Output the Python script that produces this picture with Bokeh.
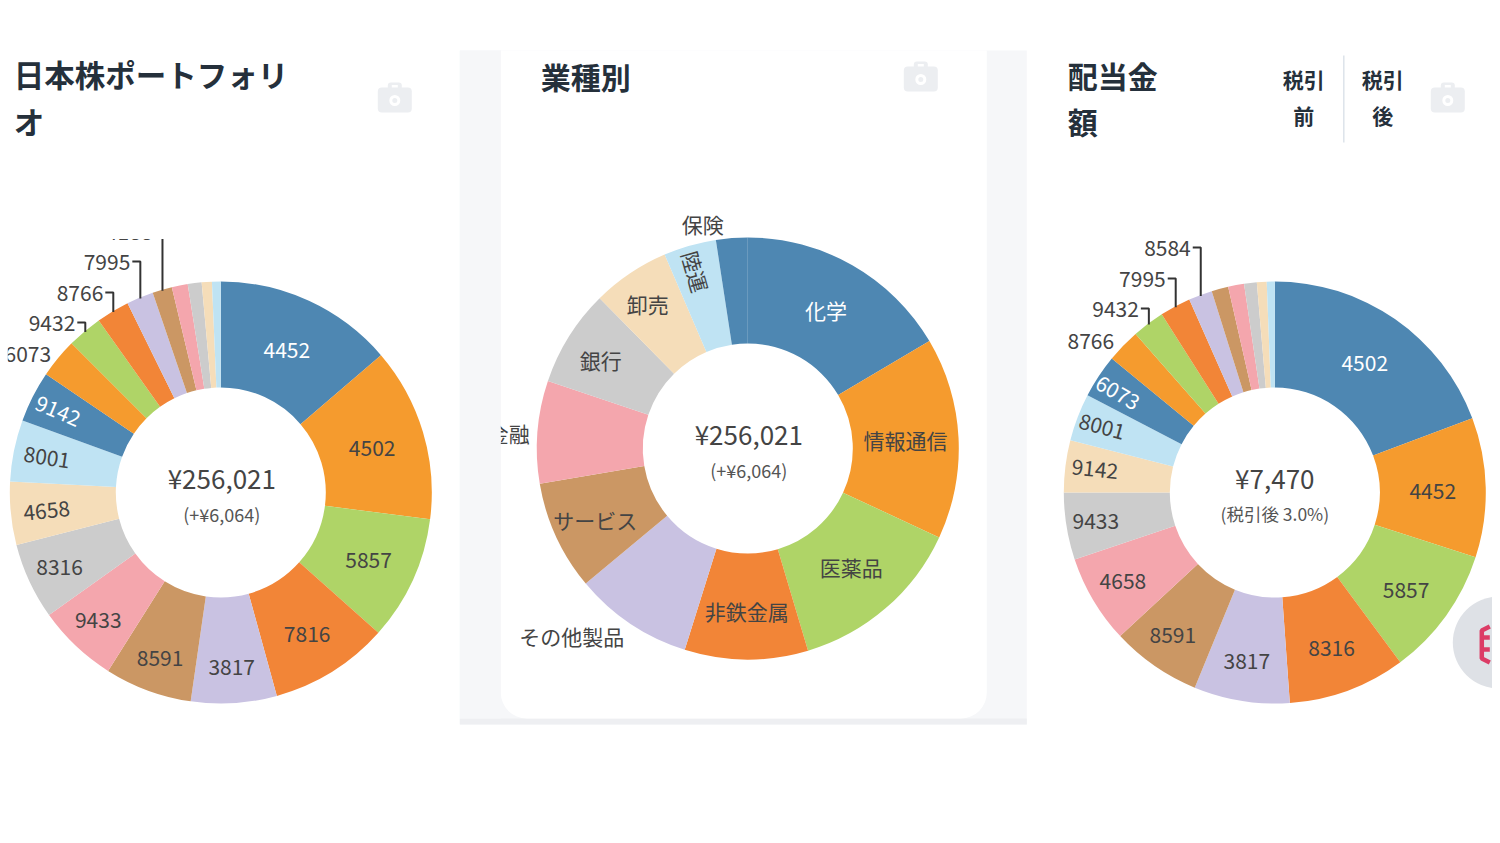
import math
from bokeh.plotting import figure
from bokeh.models import ColumnDataSource, Range1d
from bokeh.core.properties import value
from bokeh.embed import file_html
from bokeh.resources import INLINE

PALETTE = ["#4E87B2", "#F59B2E", "#AFD467", "#F28537", "#C9C2E2",
           "#CB9764", "#F4A6AD", "#CCCCCC", "#F5DDB9", "#BFE3F3"]

PORTFOLIO_CODES = ["4452", "4502", "5857", "7816", "3817", "8591", "9433", "8316", "4658", "8001",
                   "9142", "6073", "9432", "8766", "7995", "4188", "", "", "", ""]
PORTFOLIO_SHARE = [13.72, 13.31, 9.56, 9.14, 6.56, 6.69, 6.17, 5.86, 4.83, 4.72,
                   3.92, 3.03, 2.69, 2.53, 2.06, 1.50, 1.22, 1.06, 0.78, 0.67]

SECTOR_NAMES = ["化学", "情報通信", "医薬品", "非鉄金属", "その他製品", "サービス",
                "金融", "銀行", "卸売", "陸運", "保険"]
SECTOR_SHARE = [16.50, 15.42, 13.47, 9.44, 9.11, 8.39, 7.86, 7.42, 5.94, 4.03, 2.42]

DIVIDEND_CODES = ["4502", "4452", "5857", "8316", "3817", "8591", "4658", "9433", "9142", "8001",
                  "6073", "8766", "9432", "7995", "8584", "", "", "", "", ""]
DIVIDEND_SHARE = [19.28, 10.69, 9.89, 9.00, 7.33, 6.89, 6.78, 5.14, 3.97, 3.64,
                  3.33, 2.58, 2.47, 2.36, 1.81, 1.28, 1.22, 0.97, 0.75, 0.61]

FONT = "Noto Sans CJK JP"
W, H = 1492, 835
R, r = 211, 105
INK = "#444444"
SUB = "#555555"
TITLE = "#25303B"
PANEL = "#F6F7F9"


def Y(y):
    return 843 - y


p = figure(width=W, height=H, output_backend="svg", toolbar_location=None,
           x_range=Range1d(0.7, 1492.7), y_range=Range1d(8, 843), min_border=0)
p.axis.visible = False
p.grid.visible = False
p.outline_line_color = None
p.background_fill_color = "white"
p.border_fill_color = "white"


def txt(x, y, s, size, color=INK, align="center", angle=0, style="normal"):
    if style == "bold":
        y -= 3
    elif size == 21:
        y -= 1
    else:
        y -= 2
    p.text([x], [Y(y)], text=[s], text_font=value(FONT), text_font_size=f"{size}px",
           text_color=color, text_align=align, text_baseline="middle", angle=angle,
           angle_units="deg", text_font_style=style)


def mids(shares):
    tot = sum(shares)
    cum = 0
    out = []
    for v in shares:
        a0 = cum / tot * 360
        cum += v
        out.append((a0, cum / tot * 360))
    return out


def donut(cx, cy, shares):
    angs = mids(shares)
    src = ColumnDataSource(dict(
        start=[math.radians(90 - b) for _, b in angs],
        end=[math.radians(90 - a) for a, _ in angs],
        color=[PALETTE[i % 10] for i in range(len(angs))]))
    p.annular_wedge(x=cx, y=Y(cy), inner_radius=r, outer_radius=R, start_angle="start",
                    end_angle="end", fill_color="color", line_color=None, source=src)
    return angs


def inside(cx, cy, angs, labels, rotated, shift=None, size=21, outside=()):
    shift = shift or {}
    for i, s in enumerate(labels):
        if not s or s in outside:
            continue
        m = math.radians((angs[i][0] + angs[i][1]) / 2)
        x = cx + 158 * math.sin(m)
        y = cy - 158 * math.cos(m)
        dx, dy = shift.get(s, (0, 0))
        col = "white" if i % 10 == 0 else INK
        txt(x + dx, y + dy, s, size, col, angle=rotated.get(s, 0))


def leaders(cx, cy, angs, labels, spec):
    for i, s in enumerate(labels):
        if s not in spec:
            continue
        m = math.radians((angs[i][0] + angs[i][1]) / 2)
        x = cx + (R - 1) * math.sin(m)
        y = cy - (R - 1) * math.cos(m)
        ey, el = spec[s]
        p.line([x, x, x - el], [Y(y), Y(ey), Y(ey)], line_color="#333333", line_width=2)
        txt(x - el - 2, ey + 1, s, 21, INK, align="right")


def camera(x, y):
    p.quad(left=x - 7, right=x + 7, top=Y(y - 17), bottom=Y(y - 9), fill_color="#ECEEF1",
           line_color=None, border_radius=3)
    p.quad(left=x - 3, right=x + 3, top=Y(y - 14.5), bottom=Y(y - 11), fill_color="white",
           line_color=None)
    p.quad(left=x - 17, right=x + 17, top=Y(y - 12), bottom=Y(y + 13), fill_color="#ECEEF1",
           line_color=None, border_radius=4)
    p.scatter([x], [Y(y + 1)], size=8, fill_color="#ECEEF1", line_color="white", line_width=3)


# middle panel
p.quad(left=460, right=1027, top=Y(50), bottom=Y(724), fill_color=PANEL, line_color=None)
p.quad(left=460, right=1027, top=Y(718), bottom=Y(724), fill_color="#EEEFF2", line_color=None)
p.quad(left=501, right=987, top=Y(50), bottom=Y(718), fill_color="white", line_color=None,
       border_radius=(0, 0, 26, 26))

# left chart
a1 = donut(221, 492, PORTFOLIO_SHARE)
inside(221, 492, a1, PORTFOLIO_CODES,
       {"4658": 6, "8001": -9, "9142": -23},
       {"4452": (0, 2), "4502": (0, 2), "5857": (4, 3), "7816": (3, 8), "3817": (1, 18),
        "8591": (-6, 18), "9433": (-14, 14), "8316": (-18, 9), "4658": (-17, 3),
        "8001": (-19, -3), "9142": (-22, -9)},
       outside={"6073", "9432", "8766", "7995", "4188"})
txt(28, 354, "6073", 21)
leaders(221, 492, a1, PORTFOLIO_CODES,
        {"9432": (322, 8), "8766": (292, 8), "7995": (261, 8), "4188": (231, 8)})
p.quad(left=0, right=240, top=Y(150), bottom=Y(238.5), fill_color="white", line_color=None)
p.quad(left=0, right=8, top=Y(150), bottom=Y(720), fill_color="white", line_color=None)
txt(222, 479, "¥256,021", 26)
txt(222, 515, "(+¥6,064)", 18, SUB)

# middle chart
a2 = donut(748, 448, SECTOR_SHARE)
inside(748, 448, a2, SECTOR_NAMES, {"陸運": -74},
       {"非鉄金属": (0, 6), "サービス": (-9, 6), "銀行": (-13, -4), "卸売": (-12, -12), "陸運": (-9, -24)},
       outside={"その他製品", "金融", "保険"})
txt(572, 636, "その他製品", 21)
txt(509, 433, "金融", 21)
txt(703, 224, "保険", 21)
p.quad(left=460, right=501, top=Y(50), bottom=Y(718), fill_color=PANEL, line_color=None)
txt(749, 435, "¥256,021", 26)
txt(749, 471, "(+¥6,064)", 18, SUB)

# right chart
a3 = donut(1275, 492, DIVIDEND_SHARE)
inside(1275, 492, a3, DIVIDEND_CODES, {"9142": -6, "8001": -15, "6073": -30},
       {"4502": (0, 1), "4452": (0, 3), "5857": (3, 6), "8316": (2, 8), "3817": (-3, 13),
        "8591": (-12, 14), "4658": (-16, 9), "9433": (-23, 4), "9142": (-23, -3),
        "8001": (-25, -9), "6073": (-25, -12)},
       outside={"8766", "9432", "7995", "8584"})
txt(1091, 341, "8766", 21)
leaders(1275, 492, a3, DIVIDEND_CODES,
        {"9432": (308, 8), "7995": (278, 8), "8584": (247, 8)})
txt(1275, 479, "¥7,470", 26)
txt(1275, 515, "(税引後 3.0%)", 17.5, SUB)

# headers
for x, y, s in [(14, 76, "日本株ポートフォリ"), (14, 123, "オ"), (541, 78, "業種別"),
                (1068, 77, "配当金"), (1068, 123, "額")]:
    txt(x, y, s, 30.5 if x == 14 else 30, TITLE, align="left", style="bold")
for x, y, s in [(1304, 81, "税引"), (1304, 117, "前"), (1383, 81, "税引"), (1383, 117, "後")]:
    txt(x, y, s, 21, TITLE, style="bold")
p.line([1344, 1344], [Y(55), Y(142)], line_color="#DDE3EA", line_width=1.5)
camera(395, 99)
camera(921, 78)
camera(1448, 99)

# floating button at the right edge
p.scatter([1499], [Y(642)], size=92, fill_color="#DEE1E6", line_color=None)
p.multi_line([[1490, 1482, 1482, 1490], [1482, 1490], [1490, 1482]],
             [[Y(626), Y(630), Y(658), Y(662)], [Y(637), Y(637)], [Y(649), Y(649)]],
             line_color="#DC3C66", line_width=4.5)

open("out.html", "w").write(file_html(p, INLINE))
